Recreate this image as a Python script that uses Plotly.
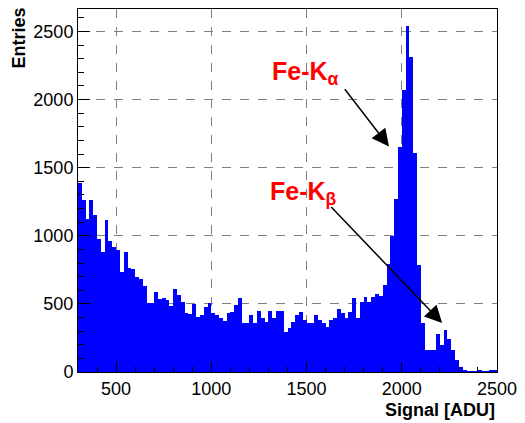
import plotly.graph_objects as go

# Histogram data: lower bin edges (ADU) and entries per bin (bin width 20 ADU)
bin_width = 20
bin_low = list(range(300, 2500, 20))
entries = [
    1386, 1260, 1125, 1260, 1150, 974, 881, 1113, 962, 918,
    893, 735, 881, 764, 754, 698, 686, 632, 507, 507,
    588, 535, 544, 532, 483, 613, 564, 515, 435, 425,
    496, 405, 422, 478, 503, 435, 417, 400, 375, 430,
    440, 490, 545, 360, 360, 420, 357, 450, 393, 370,
    450, 393, 450, 450, 296, 320, 370, 420, 440, 380,
    357, 357, 422, 380, 357, 332, 380, 400, 466, 430,
    393, 442, 545, 393, 515, 552, 515, 552, 576, 560,
    640, 790, 1000, 1270, 1650, 2070, 2540, 2315, 1610, 785,
    360, 161, 161, 161, 278, 200, 307, 241, 161, 88,
    37, 15, 5, 5, 3, 15, 2, 2, 10, 8,
]

x_ticks = [500, 1000, 1500, 2000, 2500]
y_ticks = [0, 500, 1000, 1500, 2000, 2500]

labels = ["Fe-K<sub>α</sub>", "Fe-K<sub>β</sub>"]
label_pos = [(1492, 2197), (1483, 1311)]
arrow_tail = [(1695, 2087), (1622, 1223)]
arrow_head = [(1933, 1655), (2212, 359)]

centers = [b + bin_width / 2 for b in bin_low]

fig = go.Figure()
fig.add_trace(go.Bar(
    x=centers, y=entries, width=[bin_width] * len(centers),
    marker=dict(color="#0000FF", line=dict(width=0)),
    showlegend=False, hoverinfo="skip",
))

font_family = "Liberation Sans, Arial, Helvetica, sans-serif"

fig.update_layout(
    width=525, height=423,
    margin=dict(l=78, r=23, t=8, b=51),
    paper_bgcolor="white", plot_bgcolor="white",
    bargap=0,
    font=dict(family=font_family, size=18, color="black"),
    showlegend=False,
)

fig.update_xaxes(
    range=[300, 2500], tickvals=x_ticks, ticktext=[str(v) for v in x_ticks],
    ticks="inside", ticklen=10, tickwidth=1, tickcolor="black",
    minor=dict(dtick=100, tick0=0, ticks="inside", ticklen=5, tickcolor="black", showgrid=False),
    showline=True, linecolor="black", linewidth=1, mirror=True,
    showgrid=True, gridcolor="#808080", griddash="dash", gridwidth=1,
    zeroline=False, tickfont=dict(size=18),
)
fig.update_yaxes(
    range=[0, 2665], tickvals=y_ticks, ticktext=[str(v) for v in y_ticks],
    ticks="inside", ticklen=12, tickwidth=1, tickcolor="black",
    minor=dict(dtick=100, tick0=0, ticks="inside", ticklen=6, tickcolor="black", showgrid=False),
    showline=True, linecolor="black", linewidth=1, mirror=True,
    showgrid=True, gridcolor="#808080", griddash="dash", gridwidth=1,
    zeroline=False, tickfont=dict(size=18),
)

annotations = [
    dict(text="<b>Entries</b>", xref="paper", yref="paper", x=0, y=1,
         xshift=-60, yshift=3, xanchor="center", yanchor="top", textangle=-90,
         showarrow=False, font=dict(size=18, family=font_family, color="black")),
    dict(text="<b>Signal [ADU]</b>", xref="paper", yref="paper", x=1, y=0,
         xshift=0, yshift=-26, xanchor="right", yanchor="top",
         showarrow=False, font=dict(size=18, family=font_family, color="black")),
]
for lab, (lx, ly) in zip(labels, label_pos):
    annotations.append(dict(
        text="<b>" + lab + "</b>", x=lx, y=ly, xref="x", yref="y",
        showarrow=False, font=dict(size=25, family=font_family, color="#FF0000"),
    ))
for (tx, ty), (hx, hy) in zip(arrow_tail, arrow_head):
    annotations.append(dict(
        text="", x=hx, y=hy, ax=tx, ay=ty, xref="x", yref="y", axref="x", ayref="y",
        showarrow=True, arrowhead=2, arrowsize=2.3, arrowwidth=1.5, arrowcolor="black",
    ))
fig.update_layout(annotations=annotations)

fig.write_html(
    "out.html",
    config={"displayModeBar": False},
    post_script="document.body.style.margin='0';document.body.style.padding='0';",
)
